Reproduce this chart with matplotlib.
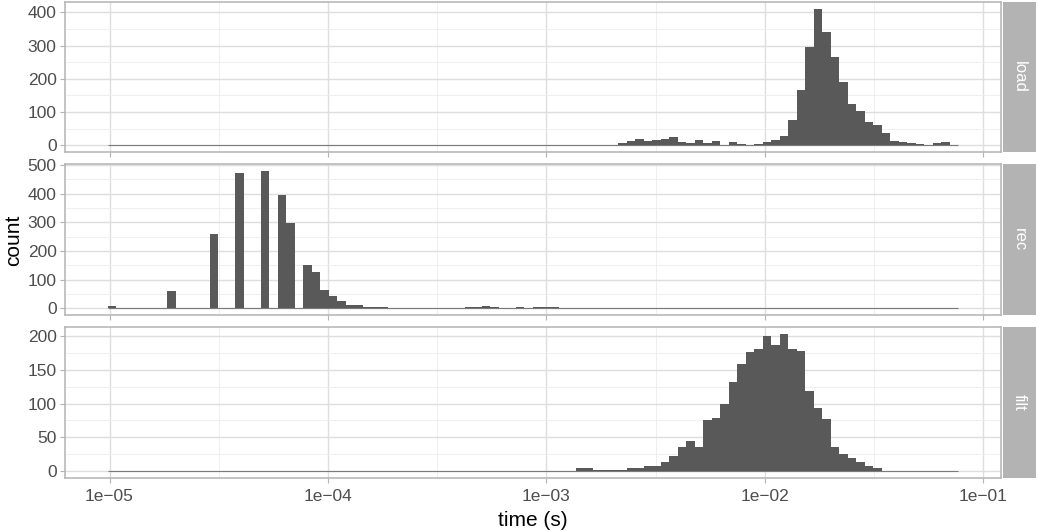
import numpy as np
import matplotlib
matplotlib.use("Agg")
import matplotlib.pyplot as plt
from matplotlib.ticker import FixedLocator, MultipleLocator, FuncFormatter, NullFormatter

plt.rcParams['font.family'] = ['Liberation Sans', 'DejaVu Sans']

# Histogram binning on log10(time): 100 equal-width bins
log_lo, log_hi = -5.009, -1.113
n_bins = 100

panels = ["load", "rec", "filt"]

# Counts per bin (index 0 .. 99)
load_counts = [0] * 100
for k, v in {60: 7, 61: 13, 62: 19, 63: 14, 64: 17, 65: 19, 66: 26, 67: 10, 68: 6,
             69: 16, 70: 7, 71: 13, 72: 0, 73: 9, 74: 4, 75: 0, 76: 4, 77: 10,
             78: 16, 79: 29, 80: 76, 81: 165, 82: 297, 83: 411, 84: 342, 85: 267,
             86: 189, 87: 124, 88: 103, 89: 70, 90: 61, 91: 37, 92: 14, 93: 10,
             94: 7, 95: 4, 96: 1, 97: 7, 98: 10}.items():
    load_counts[k] = v

rec_counts = [0] * 100
for k, v in {0: 8, 7: 60, 12: 258, 15: 473, 18: 480, 20: 397, 21: 296, 23: 150,
             24: 125, 25: 62, 26: 42, 27: 25, 28: 12, 29: 12, 30: 5, 31: 5, 32: 3,
             42: 3, 43: 3, 44: 8, 45: 3, 48: 4, 50: 3, 51: 3, 52: 4}.items():
    rec_counts[k] = v

filt_counts = [0] * 100
for k, v in {55: 4, 56: 4, 57: 2, 58: 2, 59: 1, 60: 2, 61: 4, 62: 4, 63: 7, 64: 7,
             65: 13, 66: 22, 67: 36, 68: 45, 69: 35, 70: 75, 71: 79, 72: 100,
             73: 132, 74: 158, 75: 176, 76: 180, 77: 200, 78: 187, 79: 203,
             80: 180, 81: 178, 82: 119, 83: 94, 84: 77, 85: 36, 86: 25, 87: 19,
             88: 13, 89: 7, 90: 4}.items():
    filt_counts[k] = v

counts = {"load": load_counts, "rec": rec_counts, "filt": filt_counts}
y_steps = {"load": 100, "rec": 100, "filt": 50}

x_major = [1e-5, 1e-4, 1e-3, 1e-2, 1e-1]

# ---- styling (light theme) ----
bar_color = "#595959"
border_color = "#B3B3B3"
grid_major = "#DEDEDE"
grid_minor = "#EDEDED"
tick_label_color = "#4D4D4D"

W, H = 1038, 531
fig = plt.figure(figsize=(W / 100, H / 100), dpi=100)

edges = np.logspace(log_lo, log_hi, n_bins + 1)
span = log_hi - log_lo
xlim = (10 ** (log_lo - 0.05 * span), 10 ** (log_hi + 0.05 * span))

left_px, right_px = 65, 1001
strip_l, strip_r = 1003, 1036
rows_px = [(2, 152), (164, 315), (327, 478)]

def fx(px):
    return px / W

def fy(px):
    return 1 - px / H

axes = []
for i, name in enumerate(panels):
    top, bot = rows_px[i]
    ax = fig.add_axes([fx(left_px), fy(bot), fx(right_px) - fx(left_px), fy(top) - fy(bot)])
    axes.append(ax)
    c = np.asarray(counts[name], dtype=float)
    ax.set_xscale("log")
    ax.bar(edges[:-1], c, width=np.diff(edges), align="edge", color=bar_color,
           linewidth=0, zorder=3)
    ax.hlines(0, edges[0], edges[-1], color=bar_color, linewidth=0.8, alpha=0.75, zorder=3)

    m = c.max()
    ax.set_xlim(*xlim)
    ax.set_ylim(-0.05 * m, 1.05 * m)

    ax.xaxis.set_major_locator(FixedLocator(x_major))
    ax.xaxis.set_minor_locator(FixedLocator([10 ** (e + 0.5) for e in range(-6, 0)]))
    ax.xaxis.set_minor_formatter(NullFormatter())
    step = y_steps[name]
    ax.yaxis.set_major_locator(MultipleLocator(step))
    ax.yaxis.set_minor_locator(MultipleLocator(step / 2))

    ax.grid(True, which="major", color=grid_major, linewidth=1.0, zorder=0)
    ax.grid(True, which="minor", color=grid_minor, linewidth=0.6, zorder=0)
    ax.set_axisbelow(True)

    for s in ax.spines.values():
        s.set_color(border_color)
        s.set_linewidth(1.1)

    ax.tick_params(which="major", length=3.5, width=0.8, color=border_color,
                   labelcolor=tick_label_color, labelsize=12.5, pad=2.5)
    ax.tick_params(axis="x", which="major", pad=4.5)
    ax.tick_params(which="minor", length=0)
    if i < 2:
        ax.tick_params(axis="x", labelbottom=False)
    else:
        ax.xaxis.set_major_formatter(
            FuncFormatter(lambda v, p: "1e\u2212%02d" % round(-np.log10(v))))

    # facet strip
    sax = fig.add_axes([fx(strip_l), fy(bot), fx(strip_r) - fx(strip_l), fy(top) - fy(bot)])
    sax.set_facecolor(border_color)
    sax.set_xticks([])
    sax.set_yticks([])
    for s in sax.spines.values():
        s.set_visible(False)
    sax.text(0.5, 0.5, name, rotation=-90, color="white", fontsize=12,
             ha="center", va="center", transform=sax.transAxes)

fig.text(fx((left_px + right_px) / 2), fy(520), "time (s)", ha="center", va="center",
         fontsize=15, color="black")
fig.text(fx(14), fy((rows_px[0][0] + rows_px[2][1]) / 2), "count", rotation=90,
         ha="center", va="center", fontsize=15, color="black")

fig.savefig("out.png", dpi=100, facecolor="white")
